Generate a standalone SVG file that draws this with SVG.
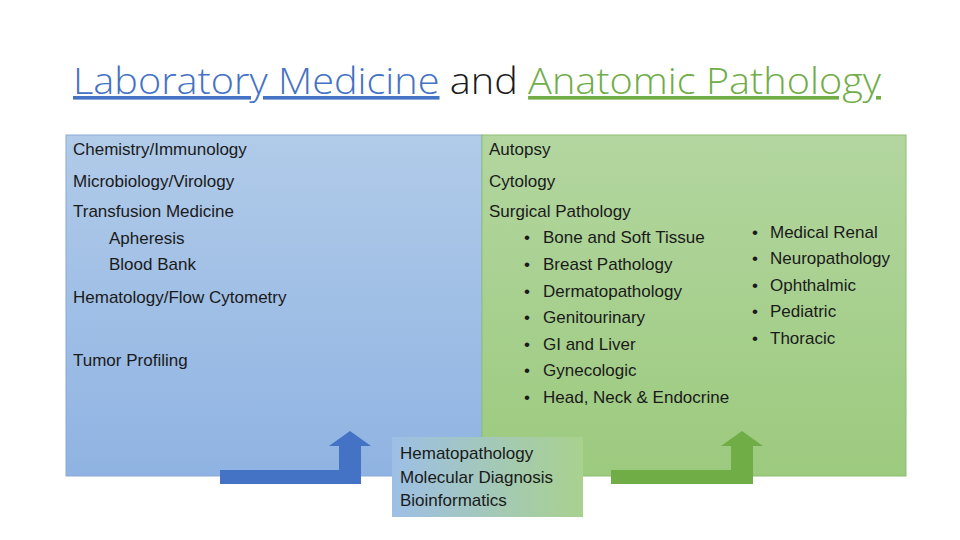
<svg xmlns="http://www.w3.org/2000/svg" width="960" height="540" viewBox="0 0 960 540">
<defs>
<linearGradient id="gb" x1="0" y1="0" x2="0" y2="1"><stop offset="0" stop-color="#b1cbe9"/><stop offset="1" stop-color="#8fb3e2"/></linearGradient>
<linearGradient id="gg" x1="0" y1="0" x2="0" y2="1"><stop offset="0" stop-color="#b3d6a0"/><stop offset="1" stop-color="#9cca7e"/></linearGradient>
<linearGradient id="gm" x1="0" y1="0" x2="1" y2="0"><stop offset="0" stop-color="#9dbfe6"/><stop offset="1" stop-color="#a9d18e"/></linearGradient>
<style>
text{font-family:"Liberation Sans",Arial,sans-serif;font-size:17px;fill:#1a1a1a}
.t{font-size:36px;font-weight:300;font-family:"Open Sans","Liberation Sans",sans-serif}
</style>
</defs>
<rect width="960" height="540" fill="#fff"/>
<text class="t" x="73" y="94" textLength="808" lengthAdjust="spacingAndGlyphs"><tspan fill="#4472c4" text-decoration="underline">Laboratory Medicine</tspan> and <tspan fill="#70ad47" text-decoration="underline">Anatomic Pathology</tspan></text>
<g id="lab">
<rect x="66" y="135" width="416" height="341" fill="url(#gb)" stroke="#8aa9d6" stroke-width="1"/>
<text x="73" y="155">Chemistry/Immunology</text>
<text x="73" y="187">Microbiology/Virology</text>
<text x="73" y="217">Transfusion Medicine</text>
<text x="109" y="244">Apheresis</text>
<text x="109" y="270">Blood Bank</text>
<text x="73" y="303">Hematology/Flow Cytometry</text>
<text x="73" y="366">Tumor Profiling</text>
</g>
<g id="anat">
<rect x="482" y="135" width="424" height="341" fill="url(#gg)" stroke="#8fbf72" stroke-width="1"/>
<text x="489" y="155">Autopsy</text>
<text x="489" y="187">Cytology</text>
<text x="489" y="217">Surgical Pathology</text>
<g>
<text x="524" y="243">•</text><text x="543" y="243">Bone and Soft Tissue</text>
<text x="524" y="270">•</text><text x="543" y="270">Breast Pathology</text>
<text x="524" y="297">•</text><text x="543" y="297">Dermatopathology</text>
<text x="524" y="323">•</text><text x="543" y="323">Genitourinary</text>
<text x="524" y="350">•</text><text x="543" y="350">GI and Liver</text>
<text x="524" y="376">•</text><text x="543" y="376">Gynecologic</text>
<text x="524" y="403">•</text><text x="543" y="403">Head, Neck &amp; Endocrine</text>
</g>
<g>
<text x="752" y="238">•</text><text x="770" y="238">Medical Renal</text>
<text x="752" y="264">•</text><text x="770" y="264">Neuropathology</text>
<text x="752" y="291">•</text><text x="770" y="291">Ophthalmic</text>
<text x="752" y="317">•</text><text x="770" y="317">Pediatric</text>
<text x="752" y="344">•</text><text x="770" y="344">Thoracic</text>
</g>
</g>
<g id="shared">
<rect x="392" y="437" width="191" height="80" fill="url(#gm)"/>
<text x="400" y="459">Hematopathology</text>
<text x="400" y="483">Molecular Diagnosis</text>
<text x="400" y="506">Bioinformatics</text>
</g>
<g id="connectors">
<path d="M220 470 H339 V446 H329 L350 431 L371 446 H361 V484 H220 Z" fill="#4472c4"/>
<path d="M611 470 H731 V446 H721 L742 431 L763 446 H753 V484 H611 Z" fill="#70ad47"/>
</g>
</svg>
